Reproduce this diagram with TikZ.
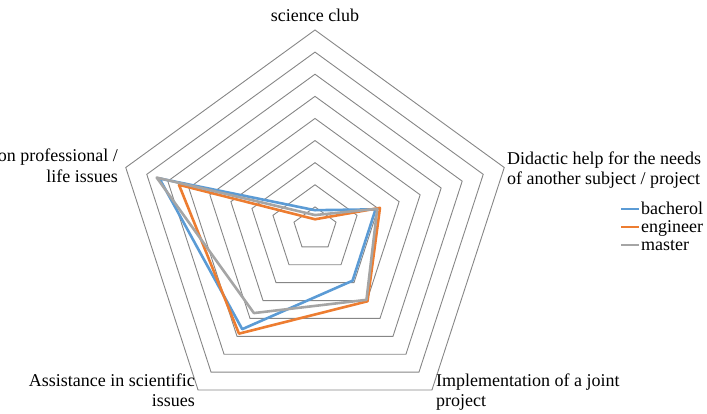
\documentclass[tikz,border=0pt]{standalone}
\usepackage{fontspec}
\setmainfont{Liberation Serif}
\usetikzlibrary{calc}
\definecolor{bleuS}{HTML}{5B9BD5}
\definecolor{orangeS}{HTML}{ED7D31}
\definecolor{grisS}{HTML}{A5A5A5}
\definecolor{grilleC}{HTML}{868686}
\def\pas{22.11}

\begin{document}
\begin{tikzpicture}[x=1pt,y=1pt,
    grille/.style={draw=grilleC,line width=0.9pt,line join=miter},
    serie/.style={line width=2.6pt,line join=round},
    etiq/.style={font=\fontsize{18}{20}\selectfont,inner sep=0pt}]
\useasboundingbox (0,0) rectangle (707,413);
\begin{scope}[shift={(315,184)}]
	% Grille
	\foreach \n in {1,...,9}
		\draw [grille] (90:{\n*\pas}) -- (18:{\n*\pas}) -- (-54:{\n*\pas}) -- (-126:{\n*\pas}) -- (162:{\n*\pas}) -- cycle;
	% Séries
	\draw [serie,bleuS] (90:{0.85*\pas}) -- (18:{2.88*\pas}) -- (-54:{2.89*\pas}) -- (-126:{5.6*\pas}) -- (162:{7.4*\pas}) -- cycle;
	\draw [serie,orangeS] (90:{0.44*\pas}) -- (18:{3.09*\pas}) -- (-54:{4.04*\pas}) -- (-126:{5.85*\pas}) -- (162:{6.47*\pas}) -- cycle;
	\draw [serie,grisS] (90:{0.63*\pas}) -- (18:{2.96*\pas}) -- (-54:{3.96*\pas}) -- (-126:{4.7*\pas}) -- (162:{7.53*\pas}) -- cycle;
\end{scope}
% Etiquettes
\node [etiq,anchor=base] (club) at (315,391.5) {science club};
\node [etiq,anchor=base west] (aide1) at (507,248) {Didactic help for the needs};
\node [etiq,anchor=base west] (aide2) at (507,228.5) {of another subject / project};
\node [etiq,anchor=base east] (vie1) at (118,251) {on professional /};
\node [etiq,anchor=base east] (vie2) at (118,230) {life issues};
\node [etiq,anchor=base east] (sci1) at (195,26.3) {Assistance in scientific};
\node [etiq,anchor=base east] (sci2) at (195,6.3) {issues};
\node [etiq,anchor=base west] (proj1) at (436,26.3) {Implementation of a joint};
\node [etiq,anchor=base west] (proj2) at (436,6.3) {project};
% Légende
\foreach \c/\t/\y in {bleuS/bacherol/204,orangeS/engineer/186,grisS/master/168}{
	\draw [serie,\c] (621,\y) -- (639,\y);
	\node [etiq,anchor=base west] (leg-\t) at (641,\y-5) {\t};
}
\end{tikzpicture}
\end{document}
